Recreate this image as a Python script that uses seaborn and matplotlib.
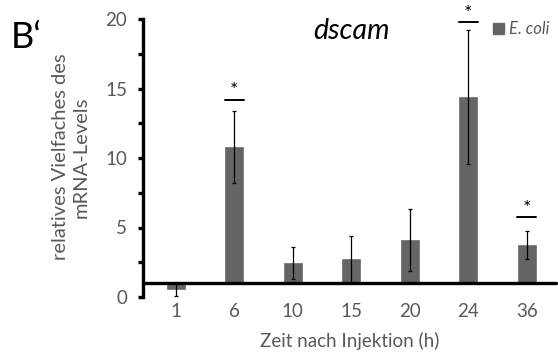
import numpy as np
import pandas as pd
import matplotlib
matplotlib.use("Agg")
import matplotlib.pyplot as plt
import seaborn as sns
from matplotlib.patches import Patch

# ---- data ----
categories = ["1", "6", "10", "15", "20", "24", "36"]
values = [0.6, 10.8, 2.42, 2.7, 4.1, 14.4, 3.74]
errors = [0.5, 2.6, 1.15, 1.7, 2.25, 4.8, 1.03]
significant = [False, True, False, False, False, True, True]
sig_line_y = [None, 14.2, None, None, None, 19.77, 5.73]
baseline = 1.0
yticks = [0, 5, 10, 15, 20]
series_name = "E. coli"

sns.set_theme(style="white")
plt.rcParams["font.family"] = ["Lato", "DejaVu Sans"]

text_grey = "#595959"
bar_grey = "#656565"

fig = plt.figure(figsize=(5.58, 3.54), dpi=100)
ax = fig.add_axes([143 / 558, 1 - 297 / 354, (556 - 143) / 558, (297 - 19) / 354])

df = pd.DataFrame({"Zeit": categories, "diff": np.array(values) - baseline})
sns.barplot(data=df, x="Zeit", y="diff", color=bar_grey, saturation=1,
            width=0.31, bottom=baseline, ax=ax, edgecolor="#777777", linewidth=0.6,
            zorder=2)

x = np.arange(len(categories))
ax.errorbar(x, values, yerr=errors, fmt="none", ecolor="black",
            elinewidth=0.9, capsize=1.2, capthick=0.9, zorder=3)

# significance marks
for xi, sig, ly in zip(x, significant, sig_line_y):
    if sig:
        ax.plot([xi - 0.16, xi + 0.16], [ly, ly], color="black", lw=1.4,
                clip_on=False, zorder=4)
        ax.text(xi, ly + 0.05, "*", ha="center", va="bottom", fontsize=14,
                color="black", clip_on=False)

ax.axhline(baseline, color="black", lw=2.4, zorder=5, clip_on=False)

ax.set_xlim(-0.56, 6.5)
ax.set_ylim(0, 20)
ax.set_yticks(yticks)
ax.set_yticks([2.5, 7.5, 12.5, 17.5], minor=True)
ax.set_yticklabels([str(t) for t in yticks])

for s in ["top", "right", "bottom"]:
    ax.spines[s].set_visible(False)
ax.spines["left"].set_linewidth(2.4)
ax.spines["left"].set_color("black")

ax.tick_params(axis="y", which="both", direction="out", length=3.5, width=2.4,
               color="black", left=True, labelsize=13.5, labelcolor=text_grey, pad=8)
ax.tick_params(axis="x", length=0, labelsize=13.5, labelcolor=text_grey, pad=4)
ax.set_xlabel("Zeit nach Injektion (h)", fontsize=13.5, color=text_grey, labelpad=9)
ax.set_ylabel("")

fig.text(71 / 558, 1 - 157 / 354, "relatives Vielfaches des\nmRNA-Levels",
         rotation=90, ha="center", va="center", multialignment="center",
         fontsize=14.5, color=text_grey, linespacing=1.3)

fig.text(351 / 558, 1 - 31 / 354, "dscam", style="italic", fontsize=20.5,
         ha="center", va="center", color="black")
fig.text(11 / 558, 1 - 37 / 354, "B\u2018", fontsize=26, ha="left", va="center",
         color="black")

leg = ax.legend(handles=[Patch(facecolor=bar_grey, edgecolor=bar_grey, label=series_name)],
                loc="center left", bbox_to_anchor=(493 / 558, 1 - 29 / 354),
                bbox_transform=fig.transFigure, frameon=False,
                prop={"style": "italic", "size": 12}, handlelength=0.65,
                handleheight=0.65, handletextpad=0.3, borderaxespad=0, borderpad=0)
for t in leg.get_texts():
    t.set_color(text_grey)

fig.savefig("out.png", dpi=100)
